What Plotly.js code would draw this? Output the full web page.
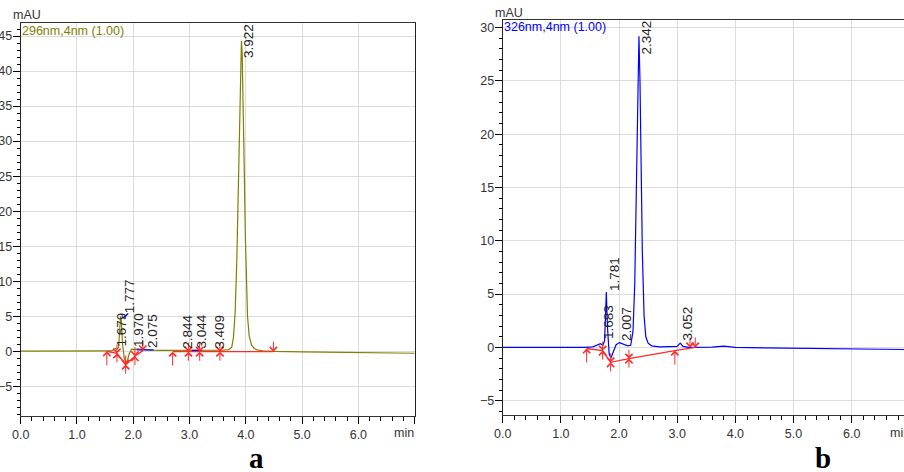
<!DOCTYPE html>
<html>
<head>
<meta charset="utf-8">
<script src="https://cdn.plot.ly/plotly-3.0.1.min.js"></script>
<style>html,body{margin:0;padding:0;background:#fff;}#chart{width:904px;height:472px;}</style>
</head>
<body>
<div id="chart"></div>
<script>
// ---------- DATA ----------
// Chromatogram a (296nm)
const aTime = [0, 0.5, 1.0, 1.5, 1.6, 1.65, 1.68, 1.71, 1.74, 1.76, 1.777, 1.79, 1.81, 1.84, 1.87, 1.90, 1.93, 1.97, 2.02, 2.075, 2.15, 2.3, 2.5, 2.7, 2.8, 2.844, 2.9, 3.0, 3.044, 3.1, 3.3, 3.409, 3.5, 3.6, 3.7, 3.75, 3.78, 3.81, 3.84, 3.87, 3.89, 3.91, 3.922, 3.935, 3.95, 3.97, 3.99, 4.01, 4.03, 4.06, 4.1, 4.15, 4.2, 4.3, 4.5, 5.0, 5.5, 6.0, 6.5, 7.0];
const aSignal = [0.02, 0.0, 0.0, 0.0, 0.05, 0.2, 0.4, 0.3, 0.6, 3.2, 5.0, 4.2, 1.0, -1.0, -1.6, -1.2, -0.3, 0.3, 0.25, 0.35, 0.25, 0.15, 0.12, 0.12, 0.14, 0.22, 0.15, 0.15, 0.22, 0.16, 0.15, 0.2, 0.17, 0.18, 0.25, 0.6, 2.0, 5.5, 13, 25, 35, 42.5, 44.3, 42.5, 37, 27, 17, 9.5, 5, 2.2, 0.9, 0.4, 0.2, 0.08, 0.0, -0.08, -0.12, -0.16, -0.22, -0.28];
const aPeaks = [1.679, 1.777, 1.970, 2.075, 2.844, 3.044, 3.409, 3.922];
const aBaseT = [1.53, 1.71, 1.865, 2.03, 2.17, null, 2.70, 4.49];
const aBaseV = [0.0, -0.3, -1.9, -0.7, 0.1, null, -0.05, -0.05];
const aMarkT = [1.81, 1.91, null, 2.06, 2.36, null, 3.04, 3.21];
const aMarkV = [4.7, 5.4, null, 0.2, 0.2, null, 0.14, 0.14];
const aUpT = [1.53, 2.70], aUpV = [0.0, -0.05];
const aDownT = [2.17, 4.49], aDownV = [0.15, -0.05];
const aCrossT = [1.71, 1.865, 2.03, 2.98, 3.18, 3.54], aCrossV = [-0.3, -1.9, -0.7, -0.05, -0.05, -0.05];

// Chromatogram b (326nm)
const bTime = [0, 0.5, 1.0, 1.4, 1.55, 1.62, 1.68, 1.72, 1.75, 1.765, 1.781, 1.80, 1.83, 1.86, 1.9, 1.95, 2.007, 2.07, 2.15, 2.2, 2.24, 2.27, 2.30, 2.32, 2.342, 2.36, 2.38, 2.40, 2.43, 2.46, 2.50, 2.56, 2.7, 2.9, 3.0, 3.052, 3.1, 3.2, 3.4, 3.6, 3.8, 4.0, 4.5, 5.0, 5.5, 6.0, 6.5, 7.0];
const bSignal = [0, -0.02, 0, 0, 0.05, 0.25, 0.35, 0.2, 0.6, 2.5, 5.2, 2.0, -0.6, -1.0, -0.4, 0.25, 0.45, 0.3, 0.15, 0.2, 1.5, 6, 16, 24, 29.2, 25, 17, 9, 3, 1.0, 0.4, 0.15, 0.05, 0.05, 0.1, 0.4, 0.1, 0.0, 0.0, 0.02, 0.12, 0.0, -0.05, -0.08, -0.1, -0.12, -0.15, -0.2];
const bPeaks = [1.683, 1.781, 2.007, 2.342, 3.052];
const bBaseT = [1.443, 1.718, 1.855, 2.17, 2.96, 3.31];
const bBaseV = [-0.1, -0.3, -1.4, -1.05, -0.3, 0.0];
const bUpT = [1.443, 2.96], bUpV = [-0.1, -0.3];
const bDownT = [3.22, 3.31], bDownV = [0.0, 0.0];
const bCrossT = [1.718, 1.855, 2.17], bCrossV = [-0.3, -1.4, -1.05];

const xTicks = [0, 1, 2, 3, 4, 5, 6, 7];
const xTickText = ['0.0', '1.0', '2.0', '3.0', '4.0', '5.0', '6.0', ''];
const aChannel = '296nm,4nm (1.00)';
const bChannel = '326nm,4nm (1.00)';
const yUnit = 'mAU', xUnit = 'min';
const panelNames = ['a', 'b'];

// ---------- STYLE / PLACEMENT ----------
const FONT = 'Liberation Sans, Arial, sans-serif';
const OLIVE = '#808000', BLUE = '#0000ff', RED = '#ff2a2a';
// label placement per peak: [pixel shift right, base height (data) or 'top']
const aLabelPos = [[6.3, 0.6], [8.3, 5.3], [7, 0.4], [15, 0.4], [7.2, 0.2], [9.6, 0.2], [7.4, 0.2], [7.5, 'top']];
const bLabelPos = [[8.4, 0.7], [8.7, 5.2], [7, 0.55], [7.8, 'top'], [7.8, 0.55]];

const traces = [
  {x: aTime, y: aSignal, xaxis: 'x', yaxis: 'y', mode: 'lines', line: {color: OLIVE, width: 1.2}},
  {x: aBaseT, y: aBaseV, xaxis: 'x', yaxis: 'y', mode: 'lines', line: {color: RED, width: 1.4}, connectgaps: false},
  {x: aMarkT, y: aMarkV, xaxis: 'x', yaxis: 'y', mode: 'lines', line: {color: BLUE, width: 1.4}, connectgaps: false},
  {x: bTime, y: bSignal, xaxis: 'x2', yaxis: 'y2', mode: 'lines', line: {color: BLUE, width: 1.2}},
  {x: bBaseT, y: bBaseV, xaxis: 'x2', yaxis: 'y2', mode: 'lines', line: {color: RED, width: 1.4}}
];

const annotations = [];
function arrow(xr, yr, x, y, ay) {
  annotations.push({xref: xr, yref: yr, x: x, y: y, ax: 0, ay: ay, showarrow: true,
    arrowhead: 4, arrowsize: 1.4, arrowwidth: 1, arrowcolor: RED, standoff: 0, startstandoff: 0,
    text: ' ', font: {size: 1}, borderpad: 0});
}
function markers(xr, yr, upT, upV, dnT, dnV, crT, crV) {
  upT.forEach((t, i) => arrow(xr, yr, t, upV[i], 15));
  dnT.forEach((t, i) => arrow(xr, yr, t, dnV[i], -11));
  crT.forEach((t, i) => { arrow(xr, yr, t, crV[i], 10); arrow(xr, yr, t, crV[i], -10); });
}
markers('x', 'y', aUpT, aUpV, aDownT, aDownV, aCrossT, aCrossV);
markers('x2', 'y2', bUpT, bUpV, bDownT, bDownV, bCrossT, bCrossV);

const yRangeA = [-9.19, 46.86], yRangeB = [-6.34, 30.75];
function peakLabels(xr, yr, peaks, pos, yTop) {
  peaks.forEach((rt, i) => {
    const top = pos[i][1] === 'top';
    annotations.push({xref: xr, yref: yr, x: rt, y: top ? yTop : pos[i][1], xshift: pos[i][0],
      text: rt.toFixed(3), textangle: -90, showarrow: false, xanchor: 'center',
      yanchor: top ? 'top' : 'bottom', borderpad: 0, font: {family: FONT, size: 13.5, color: '#222'}});
  });
}
peakLabels('x', 'y', aPeaks, aLabelPos, yRangeA[1]);
peakLabels('x2', 'y2', bPeaks, bLabelPos, yRangeB[1]);

const small = {family: FONT, size: 12.5, color: '#333'};
annotations.push(
  {xref: 'paper', yref: 'paper', x: 0.0299, y: 0.968, text: yUnit, showarrow: false, xanchor: 'center', yanchor: 'middle', font: small},
  {xref: 'paper', yref: 'paper', x: 0.5636, y: 0.973, text: yUnit, showarrow: false, xanchor: 'center', yanchor: 'middle', font: small},
  {xref: 'paper', yref: 'paper', x: 0.0235, y: 0.934, text: aChannel, showarrow: false, xanchor: 'left', yanchor: 'middle', borderpad: 0, font: {family: FONT, size: 12.5, color: OLIVE}},
  {xref: 'paper', yref: 'paper', x: 0.5568, y: 0.9434, text: bChannel, showarrow: false, xanchor: 'left', yanchor: 'middle', borderpad: 0, font: {family: FONT, size: 12.5, color: BLUE}},
  {xref: 'paper', yref: 'paper', x: 0.4587, y: 0.0833, text: xUnit, showarrow: false, xanchor: 'right', yanchor: 'middle', borderpad: 0, font: small},
  {xref: 'paper', yref: 'paper', x: 1.0073, y: 0.0833, text: xUnit, showarrow: false, xanchor: 'right', yanchor: 'middle', borderpad: 0, font: small},
  {xref: 'paper', yref: 'paper', x: 0.2832, y: 0.029, text: '<b>' + panelNames[0] + '</b>', showarrow: false, xanchor: 'center', yanchor: 'middle', font: {family: 'Liberation Serif, Times New Roman, serif', size: 29, color: '#000'}},
  {xref: 'paper', yref: 'paper', x: 0.9104, y: 0.029, text: '<b>' + panelNames[1] + '</b>', showarrow: false, xanchor: 'center', yanchor: 'middle', font: {family: 'Liberation Serif, Times New Roman, serif', size: 29, color: '#000'}}
);

function xAxis(domain, range, anchor) {
  return {domain: domain, range: range, anchor: anchor, tickmode: 'array', tickvals: xTicks, ticktext: xTickText,
    ticks: 'outside', ticklen: 7, tickcolor: '#000', tickwidth: 1, showline: true, linecolor: '#333', linewidth: 1, mirror: true,
    showgrid: true, gridcolor: '#dcdcdc', gridwidth: 1, zeroline: false, tickfont: small,
    minor: {tickmode: 'linear', tick0: 0, dtick: 0.2, ticks: 'outside', ticklen: 4, tickcolor: '#000', showgrid: false}};
}
function yAxis(domain, range, anchor, mirror) {
  return {domain: domain, range: range, anchor: anchor, tickmode: 'linear', tick0: 0, dtick: 5,
    ticks: 'outside', ticklen: 7, tickcolor: '#000', tickwidth: 1, showline: true, linecolor: '#222', linewidth: 1, mirror: mirror,
    ticklabelstandoff: -2,
    showgrid: true, gridcolor: '#dcdcdc', gridwidth: 1, zeroline: false, tickfont: small,
    minor: {tickmode: 'linear', tick0: 0, dtick: 1, ticks: 'outside', ticklen: 3, tickcolor: '#000', showgrid: false}};
}

const layout = {
  width: 904, height: 472, margin: {l: 0, r: 0, t: 0, b: 0},
  paper_bgcolor: '#fff', plot_bgcolor: '#fff', showlegend: false,
  font: {family: FONT},
  xaxis: xAxis([0.0229, 0.4587], [0, 7], 'y'),
  yaxis: yAxis([0.1193, 0.9513], yRangeA, 'x', true),
  xaxis2: xAxis([0.5561, 1], [0, 6.899], 'y2'),
  yaxis2: yAxis([0.1208, 0.9583], yRangeB, 'x2', false),
  annotations: annotations
};

Plotly.newPlot('chart', traces, layout, {staticPlot: true, displayModeBar: false});
</script>
</body>
</html>
